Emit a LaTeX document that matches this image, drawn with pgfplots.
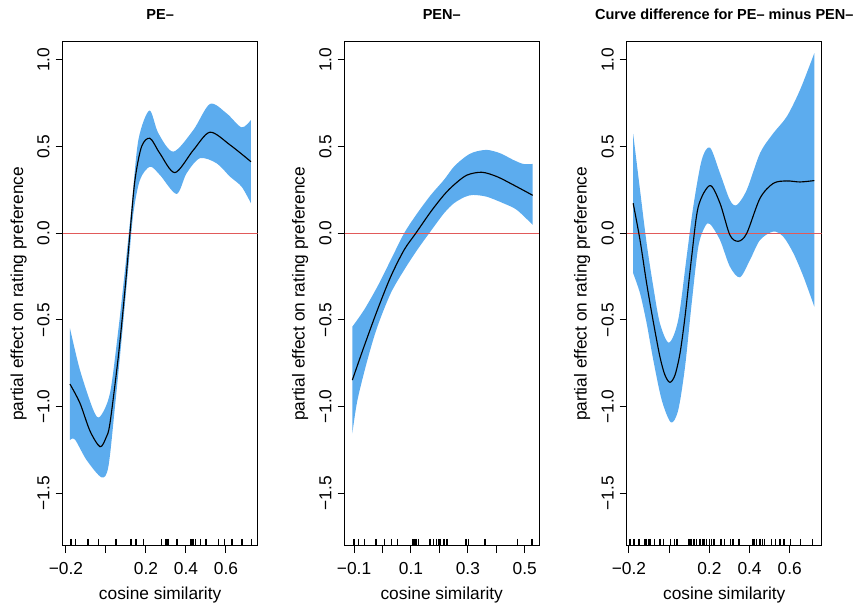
\documentclass[border=0pt]{standalone}
\usepackage{fontspec}
\setmainfont{Liberation Sans}
\usepackage{pgfplots}
\pgfplotsset{compat=1.18}
\usepgfplotslibrary{fillbetween}
\definecolor{bandblue}{RGB}{92,172,238}
\definecolor{redline}{RGB}{225,90,90}
\pgfplotsset{
  rstyle/.style={
    scale only axis,
    anchor=south west,
    height=378.2pt,
    ymin=-1.804, ymax=1.105,
    axis line style={line width=0.75pt},
    tick pos=left,
    tick align=outside,
    major tick length=5.25pt,
    every tick/.style={black, line width=0.75pt},
    ytick={-1.5,-1,-0.5,0,0.5,1},
    yticklabels={−1.5,−1.0,−0.5,0.0,0.5,1.0},
    yticklabel style={rotate=90, anchor=south, inner sep=0pt},
    yticklabel shift=4.3pt,
    xticklabel style={anchor=north, inner sep=0pt},
    xticklabel shift=6.5pt,
    tick label style={font=\fontsize{13}{15}\selectfont},
    /pgf/number format/assume math mode=true,
  },
  band/.style={draw=none, forget plot},
  curve/.style={black, line width=0.85pt, smooth},
  rug/.style={only marks, mark=|, mark size=2.625pt, black, mark options={line width=1.1pt}},
}
\begin{document}
\begin{tikzpicture}
\path (0,0) rectangle (640.5pt,453pt);

% ---------- Panel 1: PE- ----------
\begin{axis}[rstyle, at={(47.0pt,43.5pt)}, width=146.25pt,
  xmin=-0.2165, xmax=0.7585,
  xtick={-0.2,0,0.2,0.4,0.6}, xticklabels={−0.2,,0.2,0.4,0.6}]
\addplot[band, smooth, name path=U1] coordinates {
(-0.18,-0.548) (-0.13,-0.789) (-0.063,-1.02) (-0.03,-1.058) (0.02,-0.923)
(0.0617,-0.558) (0.095,-0.212) (0.128,0.154) (0.162,0.538) (0.217,0.708)
(0.262,0.577) (0.337,0.471) (0.437,0.596) (0.52,0.746) (0.603,0.692)
(0.678,0.611) (0.725,0.654)};
\addplot[band, smooth, name path=L1] coordinates {
(-0.18,-1.193) (-0.155,-1.19) (-0.097,-1.308) (-0.022,-1.408) (0.012,-1.346)
(0.045,-1.0) (0.078,-0.615) (0.112,-0.192) (0.137,0.115) (0.17,0.308)
(0.22,0.384) (0.27,0.336) (0.353,0.227) (0.403,0.346) (0.47,0.433)
(0.553,0.404) (0.62,0.327) (0.678,0.269) (0.725,0.173)};
\addplot[fill=bandblue, draw=none] fill between[of=U1 and L1];
\addplot[draw=redline, line width=0.8pt] coordinates {(-0.2165,0) (0.7585,0)};
\addplot[curve] coordinates {
(-0.18,-0.870) (-0.13,-0.98) (-0.08,-1.14) (-0.03,-1.231) (0.00,-1.18)
(0.02,-1.096) (0.0617,-0.712) (0.095,-0.327) (0.12,0) (0.145,0.307)
(0.178,0.50) (0.22,0.548) (0.27,0.46) (0.345,0.35) (0.437,0.48)
(0.52,0.583) (0.62,0.51) (0.725,0.413)};
\addplot[rug] coordinates {
(-0.175,-1.7838) (-0.153,-1.7838) (-0.09,-1.7838) (-0.037,-1.7838) (0.05,-1.7838)
(0.125,-1.7838) (0.15,-1.7838) (0.188,-1.7838) (0.277,-1.7838) (0.30,-1.7838)
(0.31,-1.7838) (0.355,-1.7838) (0.422,-1.7838) (0.43,-1.7838) (0.438,-1.7838)
(0.447,-1.7838) (0.472,-1.7838) (0.50,-1.7838) (0.563,-1.7838) (0.593,-1.7838)
(0.63,-1.7838) (0.68,-1.7838) (0.727,-1.7838)};
\end{axis}

% ---------- Panel 2: PEN- ----------
\begin{axis}[rstyle, at={(258.4pt,43.5pt)}, width=145.9pt,
  xmin=-0.1334, xmax=0.5503,
  xtick={-0.1,0,0.1,0.2,0.3,0.4,0.5}, xticklabels={−0.1,,0.1,,0.3,,0.5}]
\addplot[band, smooth, name path=U2] coordinates {
(-0.106,-0.539) (-0.065,-0.443) (-0.018,-0.308) (0.029,-0.154) (0.076,0)
(0.122,0.115) (0.170,0.221) (0.216,0.308) (0.251,0.384) (0.29,0.44)
(0.319,0.467) (0.366,0.481) (0.413,0.462) (0.46,0.423) (0.495,0.40) (0.528,0.40)};
\addplot[band, smooth, name path=L2] coordinates {
(-0.106,-1.154) (-0.088,-0.962) (-0.053,-0.731) (-0.018,-0.539) (0.029,-0.346)
(0.076,-0.212) (0.122,-0.096) (0.164,0.0) (0.216,0.115) (0.251,0.173)
(0.29,0.21) (0.319,0.221) (0.366,0.211) (0.425,0.173) (0.472,0.135) (0.528,0.048)};
\addplot[fill=bandblue, draw=none] fill between[of=U2 and L2];
\addplot[draw=redline, line width=0.8pt] coordinates {(-0.1334,0) (0.5503,0)};
\addplot[curve] coordinates {
(-0.106,-0.847) (-0.065,-0.654) (-0.018,-0.443) (0.029,-0.25) (0.076,-0.096)
(0.117,0.0) (0.170,0.125) (0.216,0.221) (0.251,0.279) (0.296,0.335)
(0.349,0.352) (0.402,0.327) (0.46,0.279) (0.528,0.219)};
\addplot[rug] coordinates {
(-0.1,-1.7838) (-0.085,-1.7838) (-0.064,-1.7838) (-0.023,-1.7838) (0.007,-1.7838)
(0.032,-1.7838) (0.052,-1.7838) (0.106,-1.7838) (0.111,-1.7838) (0.116,-1.7838)
(0.120,-1.7838) (0.126,-1.7838) (0.167,-1.7838) (0.179,-1.7838) (0.19,-1.7838)
(0.196,-1.7838) (0.202,-1.7838) (0.216,-1.7838) (0.226,-1.7838) (0.294,-1.7838)
(0.303,-1.7838) (0.360,-1.7838) (0.475,-1.7838) (0.526,-1.7838)};
\end{axis}

% ---------- Panel 3: difference ----------
\begin{axis}[rstyle, at={(470.0pt,43.5pt)}, width=146.25pt,
  xmin=-0.2114, xmax=0.7587,
  xtick={-0.2,0,0.2,0.4,0.6}, xticklabels={−0.2,,0.2,0.4,0.6}]
\addplot[band, smooth, name path=U3] coordinates {
(-0.179,0.573) (-0.145,0.25) (-0.112,-0.058) (-0.079,-0.308) (-0.046,-0.519)
(-0.001,-0.631) (0.045,-0.5) (0.087,-0.135) (0.120,0.154) (0.162,0.423)
(0.203,0.494) (0.253,0.346) (0.302,0.192) (0.336,0.163) (0.386,0.25)
(0.452,0.462) (0.518,0.577) (0.585,0.673) (0.651,0.827) (0.722,1.039)};
\addplot[band, smooth, name path=L3] coordinates {
(-0.179,-0.231) (-0.145,-0.346) (-0.112,-0.519) (-0.079,-0.731) (-0.037,-0.962)
(0.009,-1.091) (0.045,-1.02) (0.079,-0.77) (0.112,-0.404) (0.145,-0.077)
(0.178,0.038) (0.203,0.054) (0.253,-0.039) (0.302,-0.192) (0.352,-0.254)
(0.402,-0.154) (0.452,-0.039) (0.518,0.01) (0.568,-0.02) (0.618,-0.115)
(0.668,-0.25) (0.722,-0.423)};
\addplot[fill=bandblue, draw=none] fill between[of=U3 and L3];
\addplot[draw=redline, line width=0.8pt] coordinates {(-0.2114,0) (0.7587,0)};
\addplot[curve] coordinates {
(-0.179,0.173) (-0.145,-0.039) (-0.112,-0.289) (-0.079,-0.51) (-0.046,-0.712)
(-0.021,-0.818) (0.004,-0.860) (0.029,-0.818) (0.054,-0.692) (0.079,-0.48)
(0.112,-0.135) (0.145,0.154) (0.203,0.275) (0.253,0.173) (0.302,-0.01)
(0.344,-0.046) (0.386,0.0) (0.452,0.202) (0.518,0.288) (0.585,0.302)
(0.651,0.296) (0.722,0.304)};
\addplot[rug] coordinates {
(-0.195,-1.7838) (-0.175,-1.7838) (-0.150,-1.7838) (-0.120,-1.7838) (-0.112,-1.7838)
(-0.100,-1.7838) (-0.092,-1.7838) (-0.072,-1.7838) (-0.046,-1.7838) (-0.029,-1.7838)
(0.007,-1.7838) (0.027,-1.7838) (0.040,-1.7838) (0.095,-1.7838) (0.103,-1.7838)
(0.112,-1.7838) (0.123,-1.7838) (0.137,-1.7838) (0.153,-1.7838) (0.165,-1.7838)
(0.173,-1.7838) (0.187,-1.7838) (0.200,-1.7838) (0.210,-1.7838) (0.223,-1.7838)
(0.259,-1.7838) (0.276,-1.7838) (0.306,-1.7838) (0.317,-1.7838) (0.347,-1.7838)
(0.414,-1.7838) (0.422,-1.7838) (0.435,-1.7838) (0.452,-1.7838) (0.463,-1.7838)
(0.475,-1.7838) (0.510,-1.7838) (0.530,-1.7838) (0.551,-1.7838) (0.571,-1.7838)
(0.604,-1.7838) (0.654,-1.7838) (0.712,-1.7838)};
\end{axis}

% ---------- titles and labels ----------
\begin{scope}[every node/.style={inner sep=0pt}]
\node[anchor=base, font=\fontsize{10.9}{13}\selectfont\bfseries] at (120.1pt,438.6pt) {PE–};
\node[anchor=base, font=\fontsize{10.9}{13}\selectfont\bfseries] at (331.3pt,438.6pt) {PEN–};
\node[anchor=base, font=\fontsize{10.9}{13}\selectfont\bfseries] at (543.2pt,438.6pt) {Curve difference for PE– minus PEN–};
\node[anchor=base, font=\fontsize{13}{15}\selectfont] at (120.1pt,3.75pt) {cosine similarity};
\node[anchor=base, font=\fontsize{13}{15}\selectfont] at (331.3pt,3.75pt) {cosine similarity};
\node[anchor=base, font=\fontsize{13}{15}\selectfont] at (543.2pt,3.75pt) {cosine similarity};
\node[anchor=base, rotate=90, font=\fontsize{13}{15}\selectfont] at (17.25pt,232.6pt) {partial effect on rating preference};
\node[anchor=base, rotate=90, font=\fontsize{13}{15}\selectfont] at (228.4pt,232.6pt) {partial effect on rating preference};
\node[anchor=base, rotate=90, font=\fontsize{13}{15}\selectfont] at (440.0pt,232.6pt) {partial effect on rating preference};
\end{scope}
\end{tikzpicture}
\end{document}
